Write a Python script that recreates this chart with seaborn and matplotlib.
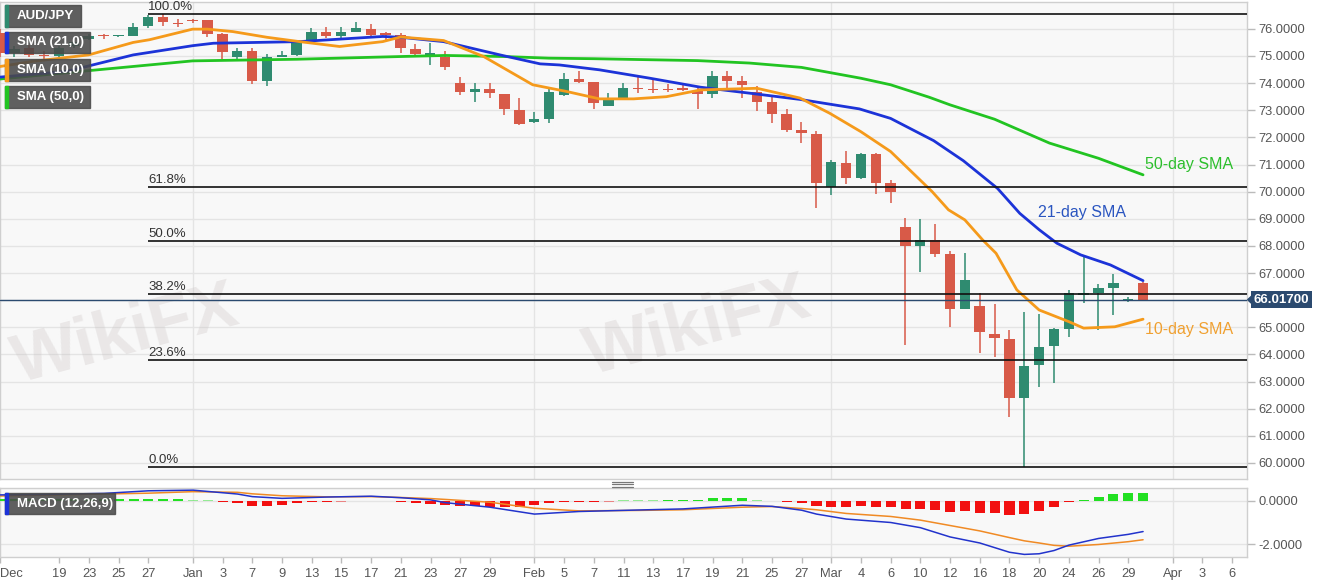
import numpy as np
import pandas as pd
import matplotlib
matplotlib.use("Agg")
import matplotlib.pyplot as plt
import matplotlib.transforms as mtrans
from matplotlib.patches import Rectangle, Polygon
from matplotlib.lines import Line2D
import seaborn as sns

# ---------------- data ----------------
opens = [75.85, 75.10, 75.30, 75.05, 75.00, 75.35, 75.63, 75.75, 75.72, 75.75,
         76.10, 76.43, 76.22, 76.33, 76.31, 75.82, 74.98, 75.20, 74.09, 74.98,
         75.04, 75.59, 75.88, 75.75, 75.90, 76.00, 75.83, 75.78, 75.26, 75.05,
         74.98, 74.00, 73.69, 73.80, 73.59, 73.01, 72.56, 72.68, 73.57, 74.16,
         74.03, 73.15, 73.42, 73.82, 73.80, 73.78, 73.82, 73.70, 73.59, 74.27,
         74.06, 73.69, 73.30, 72.86, 72.28, 72.13, 70.16, 71.07, 70.50, 71.39,
         70.31, 68.71, 68.01, 68.22, 67.70, 65.68, 65.79, 64.76, 64.57, 62.38,
         63.61, 64.31, 64.94, 66.20, 66.28, 66.44, 66.00, 66.65]
highs = [76.00, 75.35, 75.40, 75.20, 75.35, 75.55, 75.80, 75.82, 75.76, 76.21,
         76.50, 76.53, 76.36, 76.35, 76.33, 75.85, 75.30, 75.28, 75.07, 75.20,
         75.60, 76.02, 76.07, 76.07, 76.25, 76.18, 75.87, 75.85, 75.45, 75.47,
         75.17, 74.23, 74.00, 74.02, 73.59, 73.45, 72.93, 73.85, 74.39, 74.43,
         74.03, 73.65, 74.00, 74.24, 74.13, 73.98, 73.93, 73.82, 74.46, 74.45,
         74.27, 73.90, 73.50, 73.04, 72.58, 72.25, 71.17, 71.51, 71.42, 71.42,
         70.43, 69.02, 69.00, 68.81, 67.81, 67.73, 66.26, 65.86, 64.90, 65.58,
         65.50, 64.97, 66.36, 67.67, 66.60, 66.96, 66.10, 66.68]
lows = [74.95, 74.95, 74.95, 74.85, 74.95, 75.30, 75.60, 75.62, 75.70, 75.72,
        76.05, 76.10, 76.08, 76.20, 75.70, 74.88, 74.88, 73.98, 73.90, 74.95,
        75.00, 75.55, 75.67, 75.60, 75.88, 75.73, 75.60, 75.12, 75.02, 74.67,
        74.48, 73.58, 73.32, 73.45, 72.83, 72.46, 72.52, 72.52, 73.54, 74.00,
        73.04, 73.14, 73.38, 73.65, 73.63, 73.68, 73.72, 73.06, 73.45, 73.81,
        73.45, 72.99, 72.52, 72.19, 71.79, 69.39, 69.88, 70.30, 70.45, 69.92,
        69.57, 64.35, 67.05, 67.60, 65.02, 65.68, 64.04, 63.92, 61.68, 59.86,
        62.81, 62.94, 64.66, 65.91, 64.90, 65.45, 65.93, 65.98]
closes = [75.10, 75.25, 75.05, 75.00, 75.30, 75.50, 75.75, 75.72, 75.74, 76.08,
          76.43, 76.25, 76.18, 76.30, 75.82, 75.14, 75.20, 74.09, 74.98, 75.05,
          75.47, 75.88, 75.75, 75.90, 76.02, 75.79, 75.79, 75.29, 75.08, 75.10,
          74.61, 73.69, 73.80, 73.63, 73.04, 72.50, 72.67, 73.69, 74.16, 74.05,
          73.26, 73.45, 73.81, 73.78, 73.76, 73.76, 73.74, 73.59, 74.28, 74.06,
          73.94, 73.30, 72.87, 72.28, 72.15, 70.31, 71.09, 70.50, 71.39, 70.31,
          69.97, 68.01, 68.22, 67.70, 65.68, 66.75, 64.82, 64.60, 62.38, 63.59,
          64.29, 64.94, 66.26, 66.25, 66.44, 66.62, 66.02, 66.017]

sma10_idx = [0, 2.2, 6, 9, 10.1, 13, 14, 15.7, 18, 20.2, 22.9, 25.8, 27, 29.9, 32.6,
             35.9, 38.2, 40.4, 42.7, 44.9, 47.2, 51, 53.9, 55.9, 58, 60, 62.8, 63.9,
             65, 66.2, 67.1, 68.5, 70, 72, 73, 75.1, 77]
sma10_val = [74.61, 74.80, 75.04, 75.50, 75.60, 75.99, 75.99, 75.90, 75.69, 75.53, 75.35,
             75.53, 75.70, 75.57, 74.98, 73.94, 73.69, 73.42, 73.42, 73.50, 73.75, 73.81,
             73.45, 72.89, 72.21, 71.48, 70.00, 69.33, 68.96, 68.22, 67.73, 66.38, 65.64,
             65.21, 64.97, 65.02, 65.30]
sma21_idx = [0, 4.5, 9, 13, 14.4, 20.2, 25.8, 27, 29.9, 33.7, 36.4, 37.7, 40.4, 43.8,
             47.2, 50.5, 53.9, 57.9, 60, 62.9, 64.9, 67.2, 68.7, 70, 71.2, 72.8, 74.8, 77]
sma21_val = [74.22, 74.43, 75.04, 75.38, 75.47, 75.53, 75.72, 75.69, 75.53, 75.04, 74.71,
             74.67, 74.49, 74.18, 73.85, 73.63, 73.40, 73.05, 72.70, 71.88, 71.14, 70.12,
             69.20, 68.60, 68.10, 67.67, 67.30, 66.72]
sma50_idx = [0, 6, 13, 20, 27, 30, 34, 37, 40, 44, 47, 50.5, 54, 58, 60, 62.6, 64, 67,
             70.7, 74, 77]
sma50_val = [74.15, 74.46, 74.82, 74.88, 74.98, 75.02, 74.98, 74.92, 74.90, 74.86, 74.83,
             74.74, 74.58, 74.18, 73.94, 73.48, 73.20, 72.67, 71.79, 71.23, 70.62]

macd_idx = [0, 3, 7, 10, 13, 16, 17, 19, 22, 25, 27, 29, 30, 33, 36, 39, 43, 46, 50, 52,
            54, 55, 57, 60, 62, 64, 66, 68, 69, 70, 71, 72, 74, 76, 77]
macd_val = [0.28, 0.30, 0.35, 0.47, 0.50, 0.32, 0.20, 0.12, 0.18, 0.22, 0.15, 0.05, -0.08,
            -0.29, -0.61, -0.49, -0.42, -0.37, -0.20, -0.25, -0.43, -0.61, -0.84, -1.00,
            -1.24, -1.67, -1.95, -2.38, -2.48, -2.45, -2.30, -2.05, -1.74, -1.55, -1.42]
signal_val = [0.23, 0.27, 0.32, 0.36, 0.43, 0.40, 0.33, 0.24, 0.19, 0.20, 0.16, 0.11, 0.07,
              -0.06, -0.34, -0.46, -0.44, -0.41, -0.29, -0.26, -0.35, -0.41, -0.58, -0.72,
              -0.89, -1.14, -1.39, -1.70, -1.85, -1.95, -2.06, -2.10, -2.02, -1.89, -1.80]
hist_val = [0.08, 0.08, 0.08, 0.08, 0.08, 0.08, 0.08, 0.08, 0.08, 0.08,
            0.08, 0.08, 0.08, 0.04, 0.04, -0.07, -0.08, -0.22, -0.22, -0.20,
            -0.08, -0.07, -0.06, -0.04, -0.02, -0.02, -0.02, -0.06, -0.10, -0.15,
            -0.20, -0.22, -0.24, -0.26, -0.28, -0.30, -0.20, -0.10, -0.07, -0.06,
            -0.05, -0.03, 0.03, 0.03, 0.03, 0.06, 0.06, 0.06, 0.12, 0.12,
            0.12, 0.04, -0.02, -0.05, -0.08, -0.23, -0.26, -0.29, -0.23, -0.26,
            -0.26, -0.38, -0.38, -0.41, -0.53, -0.48, -0.56, -0.56, -0.67, -0.59,
            -0.48, -0.29, -0.05, 0.05, 0.20, 0.32, 0.35, 0.38]

tick_pos = [0, 4, 6, 8, 10, 13, 15, 17, 19, 21, 23, 25, 27, 29, 31, 33, 36, 38, 40, 42,
            44, 46, 48, 50, 52, 54, 56, 58, 60, 62, 64, 66, 68, 70, 72, 74, 76, 79, 81, 83]
tick_labels = ['Dec', '19', '23', '25', '27', 'Jan', '3', '7', '9', '13', '15', '17', '21',
               '23', '27', '29', 'Feb', '5', '7', '11', '13', '17', '19', '21', '25', '27',
               'Mar', '4', '6', '10', '12', '16', '18', '20', '24', '26', '29', 'Apr', '3', '6']
month_pos = [13, 36, 56, 79]
price_ticks = [60, 61, 62, 63, 64, 65, 67, 68, 69, 70, 71, 72, 73, 74, 75, 76]

fib_high, fib_low = 76.53, 59.84
fib_ratios = [1.0, 0.618, 0.5, 0.382, 0.236, 0.0]
fib_labels = ['100.0%', '61.8%', '50.0%', '38.2%', '23.6%', '0.0%']
last_price = 66.017

# ---------------- style ----------------
sns.set_theme(style="white")
plt.rcParams['font.family'] = ['Liberation Sans', 'DejaVu Sans']

W, H = 1331, 583
fig = plt.figure(figsize=(W / 100, H / 100), dpi=100)
fig.patch.set_facecolor('white')
ax = fig.add_axes([0, 1 - 479 / H, 1247 / W, 477 / H])
ax2 = fig.add_axes([0, 1 - 557 / H, 1247 / W, 69 / H])

BG = '#f8f8f8'
GRID = '#e4e4e4'
GREEN_C = '#2f8b70'
RED_C = '#d85a48'
for a in (ax, ax2):
    a.set_facecolor(BG)
    for s in a.spines.values():
        s.set_color('#cfcfcf')
        s.set_linewidth(1)
    a.set_xlim(0.03, 84.0)
    for m in month_pos:
        a.axvline(m, color=GRID, lw=1, zorder=0.6)

# ---------------- main panel ----------------
ax.set_ylim(59.41, 76.99)
for v in range(60, 77):
    ax.axhline(v, color=GRID, lw=1, zorder=0.5)

# watermark
for (xx, yy) in [(8.5, 64.7), (47, 65.0)]:
    ax.text(xx, yy, 'WikiFX', fontsize=50, fontweight='bold', color='#c9c2c2',
            alpha=0.3, rotation=15, ha='center', va='center', zorder=0.7)

idx = np.arange(len(opens))
o = np.array(opens); c = np.array(closes); h = np.array(highs); l = np.array(lows)
up = c >= o
cols = np.where(up, GREEN_C, RED_C)
ax.vlines(idx, l, h, colors=cols, lw=1.1, zorder=3)
body_bottom = np.minimum(o, c)
body_h = np.maximum(np.abs(c - o), 0.04)
ax.bar(idx, body_h, bottom=body_bottom, width=0.7, color=cols, zorder=4, linewidth=0)

sns.lineplot(x=sma50_idx, y=sma50_val, ax=ax, color='#22c422', lw=2, zorder=5)
sns.lineplot(x=sma21_idx, y=sma21_val, ax=ax, color='#1c33d8', lw=2, zorder=5)
sns.lineplot(x=sma10_idx, y=sma10_val, ax=ax, color='#f59a1b', lw=2, zorder=5)

fib_levels = [fib_low + r * (fib_high - fib_low) for r in fib_ratios]
ax.hlines(fib_levels, 10, 84.0, color='#111111', lw=1.2, zorder=6)
for lv, lab in zip(fib_levels, fib_labels):
    ax.annotate(lab, (10, lv), xytext=(0, 1), textcoords='offset points',
                fontsize=9.5, color='#333333', ha='left', va='bottom', zorder=7)

ax.axhline(last_price, color='#2b4a6f', lw=1, zorder=6)

ax.text(77.1, 71.0, '50-day SMA', color='#2cbf2c', fontsize=11.5, ha='left', va='center', zorder=8)
ax.text(69.9, 69.22, '21-day SMA', color='#2a55c0', fontsize=11.5, ha='left', va='center', zorder=8)
ax.text(77.1, 64.92, '10-day SMA', color='#f0a030', fontsize=11.5, ha='left', va='center', zorder=8)

ax.yaxis.tick_right()
ax.set_yticks(price_ticks)
ax.set_yticklabels([f'{v:.4f}' for v in price_ticks])
ax.tick_params(axis='y', which='both', right=True, length=6, width=1, color='#bbbbbb',
               labelsize=9.3, labelcolor='#555555', pad=2)
ax.set_xticks([])
ax.set_xlabel(''); ax.set_ylabel('')

# price label
tr = mtrans.blended_transform_factory(ax.transAxes, ax.transData)
ax.text(1.0055, last_price, '66.01700', transform=tr, fontsize=9.5, fontweight='bold',
        color='white', ha='left', va='center', zorder=10, clip_on=False,
        bbox=dict(boxstyle='square,pad=0.18', fc='#2b4a6f', ec='none'))
tri = Polygon([[1.0005, last_price], [1.0045, last_price + 0.17], [1.0045, last_price - 0.17]],
              closed=True, transform=tr, color='#2b4a6f', clip_on=False, zorder=10)
ax.add_patch(tri)

# ---------------- MACD panel ----------------
ax2.set_ylim(-2.6, 0.6)
ax2.axhline(0, color=GRID, lw=1, zorder=0.5)
ax2.axhline(-2, color=GRID, lw=1, zorder=0.5)
hv = np.array(hist_val)
hcols = np.where(hv >= 0, '#22e022', '#f21010')
halpha = np.where(np.abs(hv) < 0.045, 0.45, 1.0)
for i, (v, cc, aa) in enumerate(zip(hv, hcols, halpha)):
    ax2.bar(i, v, width=0.68, color=cc, alpha=aa, linewidth=0, zorder=3)
sns.lineplot(x=macd_idx, y=signal_val, ax=ax2, color='#f08a24', lw=1.1, zorder=4)
sns.lineplot(x=macd_idx, y=macd_val, ax=ax2, color='#2233cc', lw=1.1, zorder=5)
ax2.yaxis.tick_right()
ax2.set_yticks([0, -2])
ax2.set_yticklabels(['0.0000', '-2.0000'])
ax2.tick_params(axis='y', right=True, length=6, width=1, color='#bbbbbb',
                labelsize=9.3, labelcolor='#555555', pad=2)
ax2.set_xticks(tick_pos)
ax2.set_xticklabels(tick_labels)
ax2.tick_params(axis='x', bottom=True, length=4, width=1, color='#bbbbbb',
                labelsize=9.3, labelcolor='#555555', pad=4)
ax2.get_xticklabels()[0].set_ha('left')
ax2.set_xlabel(''); ax2.set_ylabel('')

# ---------------- legend boxes ----------------
def label_box(x0, y0, w, h, text, bar_color):
    fig.add_artist(Rectangle((x0 / W, 1 - (y0 + h) / H), w / W, h / H,
                             transform=fig.transFigure, color='#4a4a4a', alpha=0.88, zorder=20))
    fig.add_artist(Rectangle((x0 / W, 1 - (y0 + h) / H), 3 / W, h / H,
                             transform=fig.transFigure, color=bar_color, zorder=21))
    fig.text((x0 + 12) / W, 1 - (y0 + h / 2) / H, text, color='white', fontsize=9.5,
             fontweight='bold', ha='left', va='center', zorder=22)

label_box(5, 5, 76, 22, 'AUD/JPY', '#2f8b70')
label_box(5, 32, 85, 21, 'SMA (21,0)', '#1c33d8')
label_box(5, 59, 85, 22, 'SMA (10,0)', '#f59a1b')
label_box(5, 86, 85, 22, 'SMA (50,0)', '#22c422')
label_box(5, 493, 110, 21, 'MACD (12,26,9)', '#1c33d8')

# panel resize handle
for yy in (481.5, 484, 486.5):
    fig.add_artist(Line2D([612 / W, 633 / W], [1 - yy / H, 1 - yy / H],
                          transform=fig.transFigure, color='#777777', lw=0.9))

fig.savefig('out.png', dpi=100, facecolor='white')
